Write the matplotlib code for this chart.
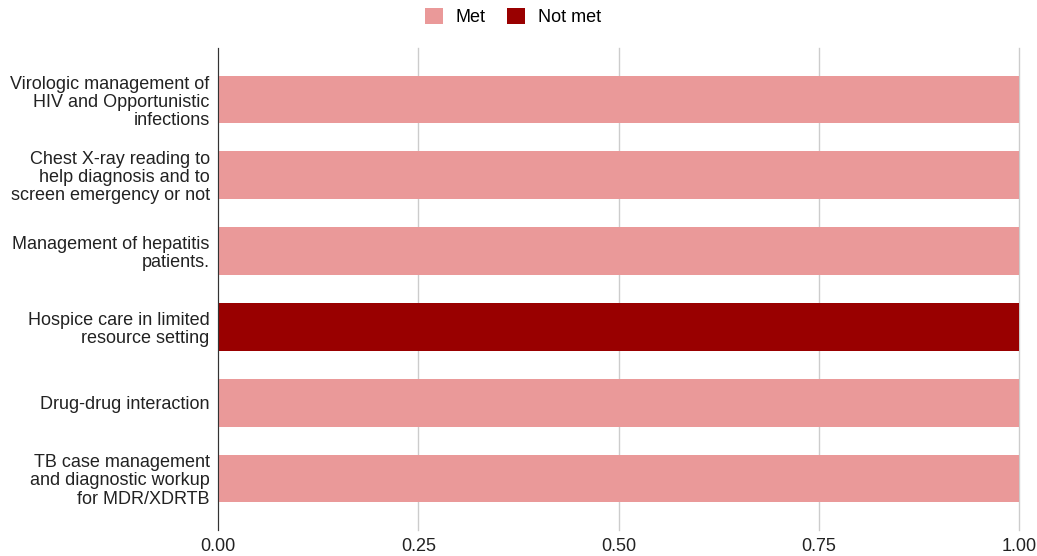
import matplotlib
matplotlib.use("Agg")
import matplotlib.pyplot as plt
from matplotlib.patches import Patch

plt.rcParams['font.family'] = ['Liberation Sans', 'DejaVu Sans']

categories = [
    "Virologic management of\nHIV and Opportunistic\ninfections",
    "Chest X-ray reading to\nhelp diagnosis and to\nscreen emergency or not",
    "Management of hepatitis\npatients.",
    "Hospice care in limited\nresource setting",
    "Drug-drug interaction",
    "TB case management\nand diagnostic workup\nfor MDR/XDRTB",
]
met = [1, 1, 1, 0, 1, 1]
not_met = [0, 0, 0, 1, 0, 0]
x_ticks = [0.0, 0.25, 0.5, 0.75, 1.0]
x_tick_labels = ["0.00", "0.25", "0.50", "0.75", "1.00"]

met_color = "#EA9999"
not_met_color = "#990000"

fig = plt.figure(figsize=(10.37, 5.56), dpi=100)
ax = fig.add_axes([218/1037, 1 - 530/556, (1019-218)/1037, (530-48)/556])

y = list(range(len(categories)))
ax.barh(y, met, height=0.63, color=met_color, zorder=3)
ax.barh(y, not_met, left=met, height=0.63, color=not_met_color, zorder=3)

ax.set_ylim(len(categories) - 1 + 0.68, -0.68)
ax.set_xlim(0, 1)
ax.set_yticks(y)
ax.set_yticklabels(categories, fontsize=13, color="#222222", linespacing=1.08)
ax.set_xticks(x_ticks)
ax.set_xticklabels(x_tick_labels, fontsize=13, color="#222222")
ax.tick_params(axis='both', length=0)
ax.tick_params(axis='x', pad=6)
ax.tick_params(axis='y', pad=6)

ax.grid(axis='x', color="#cccccc", linewidth=1, zorder=0)
for gl in ax.get_xgridlines():
    gl.set_clip_on(False)
for s in ["top", "right", "bottom"]:
    ax.spines[s].set_visible(False)
ax.spines["left"].set_color("#333333")
ax.spines["left"].set_zorder(4)

handles = [Patch(facecolor=met_color, label="Met"), Patch(facecolor=not_met_color, label="Not met")]
fig.legend(handles=handles, loc="center", bbox_to_anchor=(513/1037, 1 - 17/556), ncol=2,
           frameon=False, fontsize=13, handlelength=1.0, handleheight=1.0,
           columnspacing=1.2, handletextpad=0.7)

fig.savefig("out.png", dpi=100)
